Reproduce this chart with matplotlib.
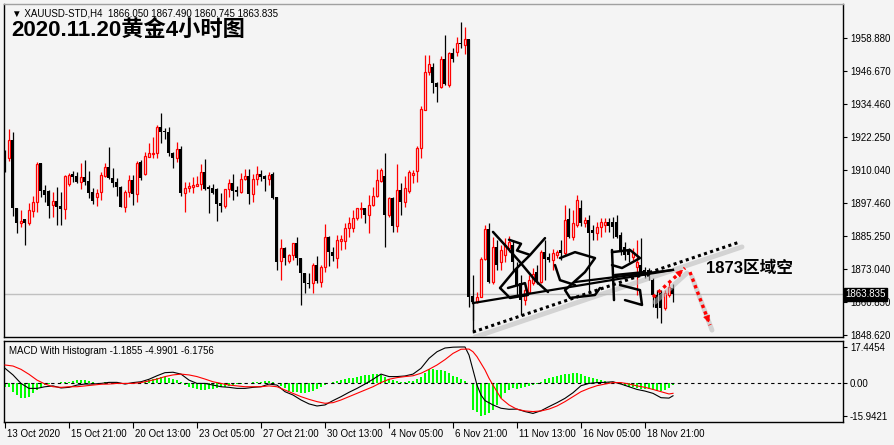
import numpy as np
import matplotlib
matplotlib.use("Agg")
import matplotlib.pyplot as plt
import matplotlib.transforms as mtransforms

plt.rcParams['font.family'] = ['Liberation Sans', 'Noto Sans CJK SC', 'DejaVu Sans']

BG = "#f4f4f4"

# ---- H4 candles, XAUUSD (bar index 0 = 13 Oct 2020) ----
opens = [
    1916.6, 1914.4, 1921.0, 1895.8, 1890.2, 1891.7, 1890.2, 1894.7, 1898.0, 1912.5,
    1902.5, 1902.1, 1896.9, 1898.4, 1896.5, 1895.4, 1904.7, 1908.4, 1907.7, 1905.4,
    1907.3, 1905.8, 1901.7, 1899.9, 1901.7, 1907.7, 1911.0, 1906.9, 1905.4, 1903.6,
    1896.2, 1901.7, 1906.2, 1901.0, 1912.9, 1908.4, 1914.7, 1915.8, 1916.2, 1925.9,
    1924.4, 1924.0, 1916.2, 1914.3, 1917.7, 1901.4, 1903.2, 1903.6, 1904.0, 1904.7,
    1909.1, 1903.6, 1903.2, 1902.8, 1897.6, 1896.5, 1902.8, 1905.1, 1902.5, 1901.7,
    1906.5, 1907.7, 1901.0, 1906.5, 1908.4, 1907.7, 1906.5, 1908.4, 1899.9, 1876.1,
    1880.9, 1876.1, 1878.3, 1882.8, 1877.2, 1871.7, 1867.9, 1867.9, 1874.6, 1868.3,
    1873.9, 1885.0, 1879.5, 1877.2, 1883.5, 1883.5, 1888.4, 1888.4, 1892.1, 1895.4,
    1895.8, 1893.2, 1896.9, 1900.2, 1905.8, 1907.7, 1893.2, 1899.5, 1889.1, 1902.5,
    1898.0, 1902.1, 1908.0, 1909.5, 1918.1, 1932.2, 1946.3, 1948.1, 1942.2, 1940.7,
    1951.1, 1941.4, 1953.3, 1953.7, 1957.0, 1956.3, 1958.5, 1863.1, 1860.9, 1862.7,
    1876.9, 1888.0, 1868.3, 1881.3, 1875.7, 1878.3, 1880.9, 1882.1, 1873.5, 1867.9,
    1861.6, 1864.6, 1867.9, 1872.0, 1868.3, 1879.5, 1877.6, 1876.5, 1878.3, 1880.2,
    1879.1, 1891.7, 1885.0, 1889.5, 1895.8, 1890.2, 1891.3, 1887.6, 1886.5, 1888.7,
    1889.5, 1890.6, 1890.6, 1890.6, 1885.8, 1881.3, 1880.2, 1877.6, 1873.9, 1874.6,
    1872.8, 1872.8, 1869.1, 1863.5, 1864.2, 1858.7, 1863.5, 1866.05]
highs = [
    1917.3, 1925.1, 1924.0, 1895.8, 1895.0, 1891.7, 1897.6, 1900.2, 1912.9, 1912.5,
    1904.3, 1902.5, 1901.7, 1903.6, 1901.7, 1908.0, 1908.8, 1909.5, 1909.1, 1912.5,
    1913.6, 1909.5, 1903.2, 1902.8, 1909.1, 1912.5, 1918.4, 1910.6, 1906.9, 1904.0,
    1902.5, 1908.0, 1908.0, 1913.2, 1913.6, 1916.6, 1919.9, 1922.1, 1926.6, 1931.0,
    1925.5, 1925.9, 1916.6, 1920.3, 1918.8, 1905.4, 1905.4, 1907.3, 1907.7, 1912.1,
    1914.0, 1904.3, 1904.7, 1903.2, 1901.4, 1902.8, 1906.5, 1908.4, 1904.0, 1908.8,
    1910.3, 1910.3, 1908.4, 1911.4, 1909.9, 1908.0, 1909.1, 1909.1, 1899.9, 1884.3,
    1881.3, 1878.7, 1882.8, 1885.0, 1877.2, 1871.7, 1871.7, 1875.4, 1878.0, 1874.6,
    1889.8, 1885.4, 1881.3, 1885.8, 1885.8, 1890.2, 1892.4, 1895.0, 1895.8, 1898.0,
    1895.8, 1900.6, 1903.6, 1910.3, 1910.6, 1916.2, 1899.9, 1899.9, 1912.1, 1905.1,
    1907.7, 1909.9, 1909.9, 1918.8, 1933.6, 1952.6, 1952.6, 1949.6, 1942.6, 1952.2,
    1960.0, 1953.7, 1955.2, 1959.2, 1964.8, 1963.0, 1958.5, 1870.9, 1864.6, 1877.6,
    1889.5, 1890.2, 1885.0, 1883.9, 1882.1, 1884.7, 1885.4, 1883.9, 1875.7, 1870.9,
    1867.2, 1870.9, 1873.5, 1874.6, 1880.2, 1883.9, 1879.1, 1880.6, 1880.2, 1883.9,
    1896.9, 1895.8, 1895.0, 1900.6, 1898.8, 1892.4, 1893.2, 1889.5, 1890.6, 1892.1,
    1892.1, 1892.1, 1892.4, 1893.2, 1886.9, 1883.2, 1880.9, 1880.9, 1883.9, 1884.7,
    1873.9, 1873.5, 1869.8, 1865.3, 1865.3, 1865.3, 1867.9, 1867.49]
lows = [
    1909.1, 1913.2, 1892.8, 1886.5, 1888.7, 1882.1, 1889.5, 1892.4, 1894.3, 1899.9,
    1898.0, 1892.1, 1892.4, 1889.5, 1889.5, 1891.7, 1904.0, 1905.4, 1905.1, 1902.8,
    1904.3, 1899.5, 1897.3, 1896.5, 1898.8, 1907.3, 1906.5, 1903.6, 1900.2, 1896.2,
    1894.3, 1899.9, 1896.9, 1898.0, 1906.2, 1908.0, 1914.7, 1914.3, 1914.3, 1919.9,
    1921.4, 1915.1, 1910.6, 1912.9, 1900.2, 1894.3, 1901.7, 1901.4, 1904.0, 1902.5,
    1902.5, 1893.9, 1901.0, 1891.0, 1894.3, 1895.8, 1899.9, 1898.8, 1900.2, 1901.4,
    1906.2, 1897.3, 1898.0, 1904.3, 1905.8, 1902.1, 1904.3, 1899.1, 1872.8, 1869.1,
    1874.6, 1875.4, 1876.5, 1874.6, 1859.8, 1864.2, 1866.1, 1864.2, 1867.9, 1866.5,
    1872.0, 1874.3, 1876.1, 1873.5, 1880.2, 1880.6, 1885.0, 1886.9, 1891.3, 1892.1,
    1890.2, 1886.5, 1896.5, 1899.9, 1905.4, 1881.3, 1892.4, 1886.9, 1886.9, 1893.2,
    1896.2, 1901.4, 1905.1, 1905.4, 1914.3, 1932.2, 1945.2, 1938.5, 1935.1, 1940.3,
    1941.4, 1940.7, 1950.0, 1952.2, 1955.2, 1953.0, 1859.0, 1854.2, 1860.5, 1862.7,
    1876.5, 1867.9, 1867.6, 1872.8, 1872.8, 1875.7, 1879.5, 1872.0, 1863.5, 1856.1,
    1859.8, 1863.9, 1867.2, 1867.6, 1867.9, 1869.1, 1875.7, 1872.8, 1877.2, 1876.5,
    1878.3, 1884.7, 1883.9, 1888.7, 1889.1, 1888.7, 1864.2, 1883.9, 1883.9, 1885.0,
    1886.9, 1886.9, 1884.7, 1884.7, 1878.3, 1876.5, 1875.7, 1876.5, 1863.5, 1871.7,
    1869.8, 1869.1, 1859.0, 1854.9, 1853.1, 1857.9, 1862.7, 1860.745]
closes = [
    1909.9, 1921.0, 1895.8, 1890.2, 1891.0, 1890.2, 1895.0, 1898.0, 1912.1, 1902.1,
    1900.6, 1896.5, 1898.4, 1896.2, 1895.4, 1907.7, 1908.0, 1907.3, 1905.4, 1907.3,
    1905.4, 1901.4, 1898.4, 1901.4, 1908.0, 1911.0, 1906.9, 1905.1, 1903.6, 1896.2,
    1901.7, 1906.2, 1901.0, 1912.5, 1906.9, 1915.1, 1916.2, 1916.2, 1925.9, 1924.0,
    1924.0, 1916.2, 1914.3, 1917.7, 1901.4, 1903.2, 1904.0, 1904.3, 1904.7, 1909.1,
    1902.8, 1902.8, 1901.4, 1897.3, 1896.5, 1902.8, 1905.1, 1902.1, 1901.7, 1906.5,
    1907.7, 1901.0, 1906.5, 1908.4, 1907.3, 1906.5, 1908.0, 1899.5, 1875.7, 1880.9,
    1877.2, 1878.3, 1882.8, 1877.2, 1871.7, 1867.9, 1867.6, 1874.6, 1868.7, 1873.9,
    1885.0, 1879.5, 1878.0, 1883.9, 1884.3, 1888.4, 1890.2, 1892.1, 1895.8, 1895.8,
    1893.2, 1896.9, 1900.2, 1906.2, 1909.9, 1893.2, 1899.5, 1889.1, 1902.5, 1898.0,
    1903.2, 1909.1, 1908.8, 1918.1, 1932.5, 1946.3, 1949.2, 1942.2, 1940.7, 1951.1,
    1941.8, 1953.3, 1951.1, 1957.0, 1956.7, 1958.5, 1862.7, 1860.9, 1862.7, 1876.9,
    1888.0, 1868.3, 1881.3, 1874.6, 1880.2, 1882.1, 1883.2, 1875.7, 1867.2, 1861.6,
    1865.3, 1869.1, 1871.3, 1868.7, 1879.5, 1876.9, 1876.5, 1879.1, 1879.5, 1879.1,
    1891.3, 1885.0, 1890.2, 1898.8, 1890.2, 1891.3, 1886.5, 1886.5, 1888.7, 1890.6,
    1890.6, 1889.1, 1888.7, 1885.0, 1880.2, 1878.3, 1878.3, 1879.5, 1875.7, 1872.0,
    1871.7, 1870.2, 1863.5, 1858.7, 1858.7, 1864.2, 1866.5, 1863.835]

# ---- MACD window ----
hist = [
    -2.1, -2.1, -4.2, -5.8, -7.1, -7.4, -6.6, -5.0, -3.4, -1.8,
    -1.0, -0.5, -0.3, 0.2, 0.3, 0.5, 0.6, 1.0, 1.3, 1.4,
    1.3, 1.0, 0.5, 0.2, 0.2, 0.5, 0.3, 0.2, -0.2, -0.5,
    -0.3, -0.2, -0.2, 0.2, 0.3, 0.6, 1.4, 1.8, 2.6, 3.1,
    3.1, 2.6, 1.9, 1.4, 0.3, -1.0, -1.8, -2.6, -3.1, -3.4,
    -3.4, -3.1, -2.7, -2.3, -2.1, -1.8, -1.3, -1.0, -0.6, -0.3,
    -0.2, 0.0, 0.3, 0.5, 0.6, 0.8, 0.8, 0.6, -0.2, -1.4,
    -2.6, -3.7, -4.2, -4.5, -4.7, -4.7, -4.3, -3.7, -2.9, -2.1,
    -1.0, -0.2, 0.6, 1.1, 1.4, 1.8, 2.3, 2.6, 3.1, 3.4,
    3.7, 4.0, 4.2, 4.2, 4.0, 3.1, 2.1, 1.4, 1.0, 0.6,
    0.5, 0.8, 1.1, 1.8, 3.1, 5.0, 6.6, 6.8, 6.3, 6.3,
    5.8, 5.0, 3.5, 3.1, 1.8, 1.1, 0.2, -13.0, -13.8, -15.9,
    -15.5, -14.6, -13.0, -10.6, -7.4, -5.0, -3.4, -2.6, -2.9, -2.6,
    -2.1, -1.4, -1.0, -0.5, 0.6, 1.9, 2.6, 3.1, 3.5, 3.9,
    4.2, 4.3, 4.7, 4.7, 4.2, 3.5, 2.7, 2.3, 1.8, 1.4,
    1.0, 0.6, 0.3, -0.2, -0.6, -1.3, -1.8, -2.1, -2.6, -2.9,
    -3.1, -3.1, -3.4, -3.9, -3.9, -3.4, -2.6, -1.1855]

macd_idx = list(range(0, 115, 2)) + [115, 116, 117, 118, 119, 120] + list(range(122, 167, 2)) + [167]
macd_vals = [
    7.1, 3.9, -0.2, -2.6, -2.6, -1.8, -1.4, -2.4, -2.1, -1.0,
    -0.5, -0.5, -0.2, 0.3, 0.3, -0.5, 0.2, 0.6, 1.8, 3.5,
    5.0, 5.2, 4.3, 1.4, -0.2, -0.2, -1.0, -1.8, -2.1, -2.6,
    -2.6, -2.1, -1.8, -0.5, -1.0, -4.2, -5.8, -8.2, -10.1, -11.1,
    -10.6, -8.5, -6.6, -4.5, -2.6, -0.5, 1.8, 4.3, 3.1, 3.1,
    3.4, 4.3, 7.1, 11.9, 15.1, 16.9, 17.3, 17.4,
    17.4, 13.5, 6.3, -1.0, -5.8, -8.5,
    -10.6, -12.2, -12.7, -12.6, -13.8, -14.7, -13.4, -11.4, -9.5, -7.4,
    -4.7, -1.3, -0.2, 0.2, 0.3, 0.6, -0.5, -1.8, -3.1, -3.9, -5.0, -7.1, -7.3,
    -6.1756]

signal_idx = list(range(0, 117, 2)) + [117, 118, 119, 120, 121, 122, 123, 124] + list(range(126, 167, 2)) + [167]
signal_vals = [
    8.7, 8.2, 6.6, 4.2, 1.4, -0.5, -1.8, -2.1, -1.8, -1.8,
    -1.4, -1.0, -0.6, -0.5, -0.2, -0.2, -0.2, 0.2, 1.0, 1.9,
    3.1, 3.9, 4.3, 3.9, 3.1, 1.9, 0.6, -0.2, -1.0, -1.4,
    -1.8, -1.8, -1.8, -1.4, -1.8, -3.4, -5.0, -6.6, -7.9, -9.0,
    -9.8, -9.5, -8.2, -6.6, -5.0, -3.4, -1.8, 0.2, 1.8, 2.6,
    3.1, 3.5, 4.7, 6.6, 8.7, 11.3, 14.3, 16.3, 16.4,
    15.1, 12.7, 9.5, 6.3, 2.3, -1.0, -4.2, -7.4,
    -10.6, -12.7, -13.5, -13.8, -13.5, -12.6, -11.1, -9.0, -6.6, -4.2,
    -2.6, -1.3, -0.5, 0.2, 0.2, -0.5, -1.4, -2.1, -3.1, -4.2, -5.3,
    -4.9901]

price_ticks = [1958.880, 1946.670, 1934.460, 1922.250, 1910.040,
               1897.460, 1885.250, 1873.040, 1860.830, 1848.620]
macd_ticks = [17.4454, 0.0, -15.9421]
macd_tick_labels = ["17.4454", "0.00", "-15.9421"]
date_pos = list(range(0, 161, 16))
date_labels = ["13 Oct 2020", "15 Oct 21:00", "20 Oct 13:00", "23 Oct 05:00",
               "27 Oct 21:00", "30 Oct 13:00", "4 Nov 05:00", "6 Nov 21:00",
               "11 Nov 13:00", "16 Nov 05:00", "18 Nov 21:00"]
last_price = 1863.835

# hand drawn marks (bar index, price)
dotted_line = ([117, 183.75], [1849.75, 1883.2])
trend_line = ([117, 167], [1860.5, 1872.8])
trend_line2 = ([142.5, 167], [1868.3, 1872.8])
trend_stub = ([117, 117], [1860.5, 1849.75])
arrow_up = ([162, 170], [1862.7, 1873.5])
arrow_down = ([171.25, 176.25], [1872.0, 1852.3])
signature = [
    [(122, 1886.9), (125, 1882.0), (128.75, 1875.7), (132.5, 1869.0), (135.75, 1864.6)],
    [(135, 1884.6), (131.25, 1878.3), (127.5, 1872.8), (123.75, 1866.1), (126.25, 1862.4),
     (130.75, 1863.5), (130, 1867.9), (125.75, 1866.1)],
    [(126, 1884.0), (129, 1882.5), (128, 1880.0), (131, 1878.5)],
    [(138.75, 1877.2), (142.5, 1879.4), (147.5, 1877.2), (145, 1872.0), (140, 1865.3),
     (141.25, 1862.4), (147.5, 1863.5), (148.75, 1866.1)],
    [(137.5, 1874.6), (138.75, 1869.0), (142.5, 1867.2)],
    [(151.75, 1880.2), (152.25, 1861.6)],
    [(151.75, 1879.4), (156.25, 1880.2), (158.75, 1877.2), (154.25, 1873.5), (151.75, 1874.6)],
    [(152.5, 1870.9), (160, 1872.0)],
    [(153.75, 1867.2), (158.75, 1865.3), (159.25, 1859.8), (155, 1861.6)],
]

fig = plt.figure(figsize=(8.95, 4.45), dpi=100, facecolor=BG)
W, H = 895.0, 445.0
ax = fig.add_axes([4 / W, 1 - 337 / H, 839 / W, 333 / H], facecolor=BG)
ax2 = fig.add_axes([4 / W, 1 - 422 / H, 839 / W, 81 / H], facecolor=BG)

x = np.arange(len(opens))
o = np.array(opens); h = np.array(highs); l = np.array(lows); c = np.array(closes)
up = c >= o

# wicks then bodies (hollow bullish bodies hide the wick inside)
ax.vlines(x[up], l[up], h[up], color="red", lw=0.9, zorder=2)
ax.vlines(x[~up], l[~up], h[~up], color="black", lw=0.9, zorder=2)
ax.bar(x[up], np.maximum(c[up] - o[up], 0.3), bottom=o[up], width=0.52,
       facecolor=BG, edgecolor="red", linewidth=0.9, zorder=3)
ax.bar(x[~up], np.maximum(o[~up] - c[~up], 0.35), bottom=c[~up], width=0.75,
       color="black", linewidth=0, zorder=3)

ax.axhline(last_price, color="#c0c0c0", lw=1, zorder=1)

ax.set_xlim(-0.25, 209.5)
ax.set_ylim(1847.9, 1971.5)
ax.set_xticks([])
ax.yaxis.tick_right()
ax.set_yticks(price_ticks, [f"{v:.3f}" for v in price_ticks])
ax.tick_params(axis="y", direction="out", length=3, width=0.8, pad=2, labelsize=7)
for s in ax.spines.values():
    s.set_color("black")
    s.set_linewidth(1)
ax.spines["top"].set_color("#a0a0a0")

# current price box
ax.text(1.003, last_price, f"{last_price:.3f}", transform=ax.get_yaxis_transform(),
        ha="left", va="center", fontsize=7, color="white", zorder=10,
        bbox=dict(boxstyle="square,pad=0.15", fc="black", ec="black"), clip_on=False)

# drawings: shadows first
shadow = mtransforms.offset_copy(ax.transData, fig=fig, x=2, y=-5, units="dots")
for seg in (dotted_line, arrow_up, arrow_down):
    ax.plot(seg[0], seg[1], color="#b8b8b8", lw=3.5, alpha=0.55, transform=shadow,
            solid_capstyle="round", zorder=4)

ax.plot(*dotted_line, color="black", lw=2.2, ls=(0, (1, 1.1)), zorder=6)
ax.plot(*trend_line, color="black", lw=1.6, zorder=6)
ax.plot(*trend_line2, color="black", lw=1.6, zorder=6)
ax.plot(*trend_stub, color="black", lw=1.0, zorder=6)
for stroke in signature:
    sx, sy = zip(*stroke)
    ax.plot(sx, sy, color="black", lw=1.8, solid_joinstyle="round",
            solid_capstyle="round", zorder=6)

for seg in (arrow_up, arrow_down):
    ax.plot(seg[0], seg[1], color="red", lw=2.4, ls=(0, (1, 1.1)), zorder=7)
    ax.annotate("", xy=(seg[0][1], seg[1][1]),
                xytext=(seg[0][0] + 0.8 * (seg[0][1] - seg[0][0]),
                        seg[1][0] + 0.8 * (seg[1][1] - seg[1][0])),
                arrowprops=dict(arrowstyle="-|>", color="red", lw=0.5,
                                mutation_scale=11), zorder=7)

ax.text(175.25, 1873.5, "1873区域空", fontsize=12, fontweight="bold",
        ha="left", va="center", zorder=8)

# MACD panel
xi = np.arange(len(hist))
ax2.bar(xi, hist, width=0.7, color="#00ff00", linewidth=0, antialiased=False, zorder=2)
ax2.axhline(0, color="black", lw=0.8, ls=(0, (3, 3)), zorder=3)
ax2.plot(macd_idx, macd_vals, color="black", lw=0.8, zorder=4)
ax2.plot(signal_idx, signal_vals, color="red", lw=0.8, zorder=4)
ax2.set_xlim(-0.25, 209.5)
ax2.set_ylim(-18.84, 20.29)
ax2.yaxis.tick_right()
ax2.set_yticks(macd_ticks, macd_tick_labels)
ax2.tick_params(axis="y", direction="out", length=3, width=0.8, pad=2, labelsize=7)
ax2.set_xticks(date_pos, date_labels)
ax2.tick_params(axis="x", direction="out", length=4, width=0.8, pad=1, labelsize=7)
shift = mtransforms.ScaledTranslation(2 / 100, 0, fig.dpi_scale_trans)
for lbl in ax2.get_xticklabels():
    lbl.set_ha("left")
    lbl.set_transform(lbl.get_transform() + shift)
for s in ax2.spines.values():
    s.set_color("black")
    s.set_linewidth(1)
ax2.text(0.006, 0.88, "MACD With Histogram -1.1855 -4.9901 -6.1756",
         transform=ax2.transAxes, fontsize=7, ha="left", va="center")

# header texts
fig.text(12 / W, 1 - 13 / H, "▼ XAUUSD-STD,H4  1866.050 1867.490 1860.745 1863.835",
         fontsize=7, ha="left", va="center")
fig.text(11 / W, 1 - 30 / H, "2020.11.20黄金4小时图", fontsize=16, fontweight="bold",
         ha="left", va="center")

fig.savefig("out.png", dpi=100, facecolor=BG)
